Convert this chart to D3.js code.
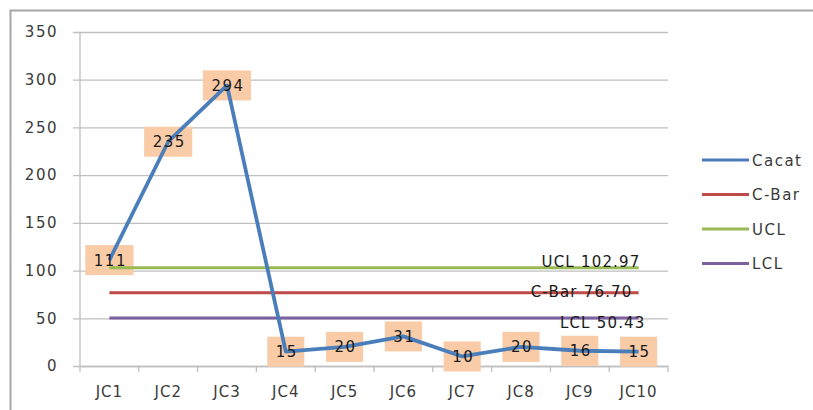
<!DOCTYPE html>
<html>
<head>
<meta charset="utf-8">
<script src="https://cdn.jsdelivr.net/npm/d3@7"></script>
<style>
  html, body { margin: 0; padding: 0; background: #fff; }
  svg text { font-family: "DejaVu Sans", sans-serif; }
</style>
</head>
<body>
<svg id="chart" width="813" height="410"></svg>
<script>
// Control chart (c-chart) of defects per sample
const categories = ["JC1", "JC2", "JC3", "JC4", "JC5", "JC6", "JC7", "JC8", "JC9", "JC10"];
const cacat = [111, 235, 294, 15, 20, 31, 10, 20, 16, 15];
const cBar = [76.70, 76.70, 76.70, 76.70, 76.70, 76.70, 76.70, 76.70, 76.70, 76.70];
const ucl = [102.97, 102.97, 102.97, 102.97, 102.97, 102.97, 102.97, 102.97, 102.97, 102.97];
const lcl = [50.43, 50.43, 50.43, 50.43, 50.43, 50.43, 50.43, 50.43, 50.43, 50.43];
const yTicks = [0, 50, 100, 150, 200, 250, 300, 350];
const seriesNames = ["Cacat", "C-Bar", "UCL", "LCL"];
const seriesColors = ["#4a7ebb", "#be4b48", "#98b954", "#7d60a0"];

const svg = d3.select("#chart");
const plot = { left: 80, right: 668, top: 32, bottom: 366 };

// chart area frame
svg.append("rect")
  .attr("x", 10.5).attr("y", 10.5)
  .attr("width", 820).attr("height", 420)
  .attr("fill", "none").attr("stroke", "#a6a6a6").attr("stroke-width", 2);

const x = d3.scaleBand().domain(categories).range([plot.left, plot.right]).padding(0);
const y = d3.scaleLinear().domain([0, 350]).range([plot.bottom, plot.top]);
const cx = d => x(d) + x.bandwidth() / 2;

// horizontal gridlines + y axis labels
const yAxis = d3.axisLeft(y).tickValues(yTicks).tickSize(plot.right - plot.left + 7).tickPadding(15);
const gy = svg.append("g").attr("transform", `translate(${plot.right},0)`).call(yAxis);
gy.select(".domain").remove();
gy.selectAll(".tick line").attr("stroke", "#bfbfbf").attr("stroke-width", 1.3);
gy.selectAll(".tick text").attr("font-size", 15).attr("fill", "#3a3a3a")
  .attr("letter-spacing", "1.5px");

// vertical axis line
svg.append("line")
  .attr("x1", plot.left).attr("x2", plot.left)
  .attr("y1", plot.top).attr("y2", plot.bottom)
  .attr("stroke", "#bfbfbf").attr("stroke-width", 1.3);

// category axis
const xAxis = d3.axisBottom(x).tickSize(0).tickPadding(20);
const gx = svg.append("g").attr("transform", `translate(0,${plot.bottom})`).call(xAxis);
gx.select(".domain").attr("stroke", "#bfbfbf").attr("stroke-width", 1.3);
gx.selectAll(".tick text").attr("font-size", 15).attr("fill", "#3a3a3a")
  .attr("letter-spacing", "1px");
// tick marks at category boundaries
const bounds = categories.map(c => x(c)).concat([plot.right]);
gx.selectAll(".bound").data(bounds).enter().append("line")
  .attr("x1", d => d).attr("x2", d => d).attr("y1", 0).attr("y2", 6)
  .attr("stroke", "#bfbfbf").attr("stroke-width", 1.3);

// data label backgrounds (under the lines)
const labelLayer = svg.append("g");
const labelText = svg.append("g");

const line = d3.line().x((d, i) => cx(categories[i])).y(d => y(d));

// measure label widths first
const tmp = svg.append("g");
const widths = cacat.map(v => {
  const t = tmp.append("text").attr("font-size", 15).attr("letter-spacing", "1.5px").text(v);
  const w = t.node().getComputedTextLength();
  t.remove();
  return w;
});
tmp.remove();

labelLayer.selectAll("rect").data(cacat).enter().append("rect")
  .attr("x", (d, i) => cx(categories[i]) - (widths[i] + 15) / 2)
  .attr("y", d => y(d) - 15)
  .attr("width", (d, i) => widths[i] + 15)
  .attr("height", 30)
  .attr("fill", "#f9cba6");

// control lines
const controls = [cBar, ucl, lcl];
controls.forEach((arr, k) => {
  svg.append("path").datum(arr)
    .attr("d", line)
    .attr("fill", "none")
    .attr("stroke", seriesColors[k + 1])
    .attr("stroke-width", 3);
});

// defects series
svg.append("path").datum(cacat)
  .attr("d", line)
  .attr("fill", "none")
  .attr("stroke", seriesColors[0])
  .attr("stroke-width", 3.8)
  .attr("stroke-linejoin", "round");

// data label texts
labelText.raise();
labelText.selectAll("text").data(cacat).enter().append("text")
  .attr("x", (d, i) => cx(categories[i]) + 1)
  .attr("y", d => y(d) + 5.5)
  .attr("text-anchor", "middle")
  .attr("font-size", 15)
  .attr("letter-spacing", "1.5px")
  .attr("fill", "#1a1a1a")
  .text(d => d);

// control limit labels at the last category
const lastX = cx(categories[categories.length - 1]);
const ctrlLabels = [
  { text: "UCL " + ucl[9].toFixed(2), v: ucl[9], dx: 2, dy: -1 },
  { text: "C-Bar " + cBar[9].toFixed(2), v: cBar[9], dx: -6, dy: 4 },
  { text: "LCL " + lcl[9].toFixed(2), v: lcl[9], dx: 7, dy: 10 }
];
svg.selectAll(".ctrl").data(ctrlLabels).enter().append("text")
  .attr("x", d => lastX + d.dx)
  .attr("y", d => y(d.v) + d.dy)
  .attr("text-anchor", "end")
  .attr("font-size", 15)
  .attr("letter-spacing", "1.2px")
  .attr("fill", "#1a1a1a")
  .text(d => d.text);

// legend
const legend = svg.append("g");
seriesNames.forEach((name, i) => {
  const ly = 160 + i * 34.5;
  legend.append("line")
    .attr("x1", 702).attr("x2", 749).attr("y1", ly).attr("y2", ly)
    .attr("stroke", seriesColors[i]).attr("stroke-width", 3);
  legend.append("text")
    .attr("x", 752).attr("y", ly + 5.5)
    .attr("font-size", 15)
    .attr("letter-spacing", "1.5px")
    .attr("fill", "#3a3a3a")
    .text(name);
});
</script>
</body>
</html>
